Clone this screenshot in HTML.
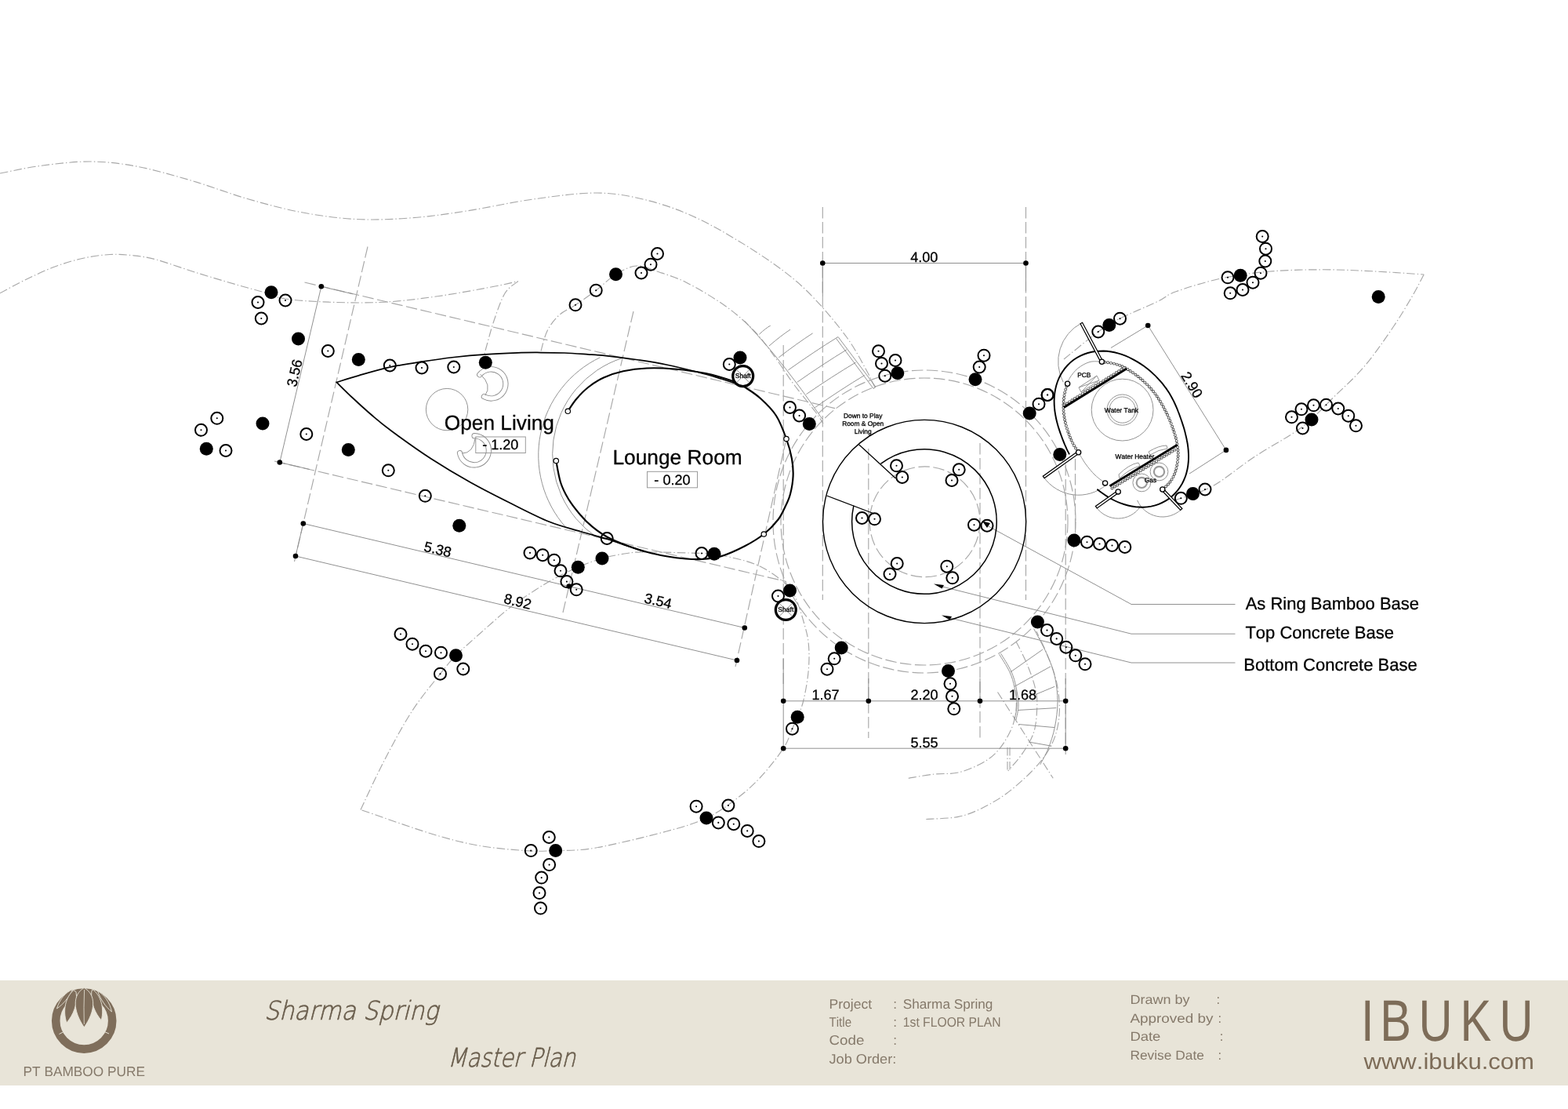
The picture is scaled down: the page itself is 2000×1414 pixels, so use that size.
<!DOCTYPE html>
<html lang="en"><head><meta charset="utf-8"><title>Sharma Spring - 1st Floor Plan</title>
<style>
html,body{margin:0;padding:0;background:#fff;}
body{width:2000px;height:1414px;overflow:hidden;position:relative;font-family:"Liberation Sans",sans-serif;}
svg{position:absolute;left:0;top:0;display:block;will-change:transform}
text{font-family:"Liberation Sans",sans-serif;fill:#000;stroke:#000;stroke-width:0.3px;text-rendering:geometricPrecision;font-kerning:none}
.ft,.fb{stroke:none}
.dd{fill:none;stroke:#a8a8a8;stroke-width:1.15;stroke-dasharray:10.5 3 1.4 3}
.dd .ds{stroke-dasharray:14.5 4.5}
.tg{fill:none;stroke:#939393;stroke-width:1}
.dim{fill:none;stroke:#909090;stroke-width:1}
.bk{fill:none;stroke:#000}
.ft{fill:#85796a}
.fs{fill:#6a5e4d}
.fb{fill:#7d6c58}
</style></head><body>
<svg width="2000" height="1414" viewBox="0 0 2000 1414">
<rect x="0" y="1250" width="2000" height="134" fill="#e8e4d8"/>
<g class="dd">
<path d="M0 221C8.8 219.4 33.2 213.8 52.5 211.3C71.8 208.8 95.1 205.8 115.5 206C135.9 206.2 153.4 208.2 175 212.3C196.6 216.4 221.7 223.7 245 230.5C268.3 237.3 291.7 246.6 315 253.3C338.3 260 361.7 266.4 385 270.8C408.3 275.2 431.7 278.3 455 279.5C478.3 280.7 501.7 279.6 525 277.8C548.3 276.1 569.2 273 595 269C620.8 265 652.5 257.8 680 254C707.5 250.2 736.7 246 760 246C783.3 246 800 249.3 820 254C840 258.7 860 265.3 880 274C900 282.7 920 294 940 306C960 318 983.3 333.3 1000 346C1016.7 358.7 1026.7 368 1040 382C1053.3 396 1069.3 415.3 1080 430C1090.7 444.7 1098 459.3 1104 470C1110 480.7 1114 490 1116 494"/>
<path d="M0 373.8C5.8 370.7 23.3 361.1 35 355.5C46.7 349.9 58.3 344.3 70 340C81.7 335.7 93.3 332.1 105 329.5C116.7 326.9 129.2 325.1 140 324.5C150.8 323.9 160 324.7 170 325.8C180 326.9 186.7 327.6 200 331.2C213.3 334.9 233.3 342.3 250 347.5C266.7 352.7 285.7 358.3 300 362.5C314.3 366.7 325.3 369.4 336 372.5C346.7 375.6 350 378.9 364 381C378 383.1 399 384.5 420 385.2C441 385.9 466.7 386.5 490 385.2C513.3 383.9 536.7 380.8 560 377.5C583.3 374.2 613.2 368.4 630 365.3C646.8 362.2 655.7 359.7 660.8 358.6"/>
<path d="M660.8 358.6C658 361.2 649.1 365.6 644 374C638.9 382.4 633.8 398 630 409C626.2 420 623.2 432.3 621 440C618.8 447.7 617.7 452.5 617 455"/>
<path d="M690 447.5C691.3 443.2 694.2 429.6 698 422C701.8 414.4 707 407.5 713 402C719 396.5 726.1 394.1 734 388.8C741.9 383.5 751.7 376.7 760.3 370.2C768.9 363.7 776.9 354.9 785.5 349.7C794.1 344.5 803.2 339.6 812 339C820.8 338.4 833.7 344.8 838 346"/>
<path d="M838 346C844.2 348.3 860.5 352.7 875 360C889.5 367.3 910.4 379.6 925 390C939.6 400.4 951.7 411.2 962.5 422.5C973.3 433.8 981.7 446.2 990 457.5C998.3 468.8 1004.2 478.8 1012.5 490C1020.8 501.2 1033.8 516.7 1040 525C1046.2 533.3 1048.3 537.5 1050 540"/>
<path d="M1357 458C1364.3 452.2 1388.9 431.7 1400.8 423C1412.7 414.3 1415.9 412.4 1428.6 406C1441.3 399.6 1464.9 390 1476.8 384.3C1488.7 378.6 1486.5 376.6 1500 371.8C1513.5 366.9 1537.9 359.2 1557.5 355C1577.1 350.8 1596.2 348.1 1617.5 346.2C1638.8 344.4 1662.9 343.8 1685 343.8C1707.1 343.7 1728.1 344.7 1750 345.8C1771.9 346.8 1805.2 349.3 1816.2 350"/>
<path d="M1816.2 350C1813.5 355 1806.9 368.3 1800 380C1793.1 391.7 1785 405.4 1775 420C1765 434.6 1752.5 452.9 1740 467.5C1727.5 482.1 1713.3 494.6 1700 507.5C1686.7 520.4 1676.7 532.5 1660 545C1643.3 557.5 1618.8 570.1 1600 582.5C1581.2 594.9 1563.2 610.6 1547.5 619.4C1531.8 628.2 1515.6 632 1506 635.4C1496.4 638.8 1492.7 639.2 1490 640"/>
<path d="M460 1032.4C465 1022 479.2 990.8 490 970C500.8 949.2 513.1 926 525 907.5C536.9 889 552.1 871.2 561.5 859.2C570.9 847.3 573 844.4 581.5 835.8C590 827.1 601.1 817.6 612.5 807.5C623.9 797.4 638.3 784.2 650 775C661.7 765.8 672.5 759 682.5 752.5C692.5 746 700.9 741.1 710 736.2C719.1 731.4 727.6 727.3 737.2 723.2C746.9 719.2 757.5 715 768 712C778.5 709 790.5 706.9 800 705.5C809.5 704.1 809.2 703.8 825 703.8C840.8 703.8 880.7 705.1 895 705.5C909.3 705.9 901.8 704.7 911 706.3C920.2 707.9 939.3 711.9 950 715C960.7 718.1 966.7 720.4 975 725C983.3 729.6 994.6 737.8 1000 742.5C1005.4 747.2 1006.2 751.2 1007.5 753"/>
<path d="M1007.5 753C1008.8 754.6 1012.1 755.9 1015 762.5C1017.9 769.1 1022.3 782.9 1025 792.5C1027.7 802.1 1030.2 809.6 1031.2 820C1032.3 830.4 1032.3 842.9 1031.2 855C1030.2 867.1 1027.3 882.6 1025 892.5C1022.7 902.4 1019.7 908.1 1017.2 914.2C1014.8 920.4 1013.5 922.6 1010.5 929.2C1007.5 935.9 1006 944 999.2 954.2C992.5 964.5 979.9 980.4 970 991C960.1 1001.6 951.5 1009.3 940 1018C928.5 1026.7 916 1036 901 1043C886 1050 873.5 1053.7 850 1060C826.5 1066.3 783.5 1076.9 760 1081C736.5 1085.1 723.7 1084 708.7 1084.6C693.7 1085.2 686.5 1085.7 670 1084.6C653.5 1083.5 630 1081.6 610 1078C590 1074.4 575 1070.6 550 1063C525 1055.4 475 1037.5 460 1032.4"/>
<circle class="ds" cx="1179" cy="665" r="183"/>
<circle class="ds" cx="1179" cy="665" r="193"/>
<circle class="ds" cx="1179.6" cy="665.3" r="70.4"/>
<path d="M1158.7 992.2C1164.2 991.4 1180.9 988.3 1191.5 987.1C1202.1 985.9 1212 987.4 1222.3 985C1232.5 982.6 1244.5 977.5 1253 972.7C1261.5 967.9 1267.3 963.5 1273.5 956.3C1279.7 949.1 1286.2 938.2 1289.9 929.7C1293.7 921.2 1295 913.3 1296 905C1297 896.7 1296 884.2 1296 880"/>
<path d="M1181.3 1044.5C1188.1 1044 1210.3 1043.8 1222.3 1041.4C1234.2 1039 1242.8 1035.2 1253 1030.2C1263.2 1025.2 1273.5 1019.2 1283.8 1011.7C1294 1004.2 1306 993.5 1314.5 985C1323 976.5 1329.5 968.9 1335 960.4C1340.5 951.9 1344.6 943.4 1347.3 933.8C1350 924.2 1351.4 913.9 1351.4 903C1351.4 892.1 1350 879.9 1347.3 868.2C1344.6 856.5 1339.2 843.5 1335 833C1330.8 822.5 1324.2 809.7 1322 805"/>
<path d="M1296.1 818C1298.5 823 1306.3 837.6 1310.4 847.7C1314.5 857.8 1318.7 869.2 1320.7 878.4C1322.8 887.6 1323.1 893.8 1322.7 903C1322.3 912.2 1321.7 924.2 1318.6 933.8C1315.5 943.4 1309.8 952.2 1304.3 960.4C1298.8 968.6 1288.9 979.2 1285.8 983"/>
<path d="M1272.5 882.5 L1343.2 992.2 M1285 953 L1285 983 M1288 953 L1288 983"/>
<path class="ds" d="M469 314.5 L375.5 716"/>
<path class="ds" d="M388.5 360 L1065 520.6"/>
<path class="ds" d="M350 588 L1003 741.5"/>
<path class="ds" d="M808 397 L718 781"/>
<path class="ds" d="M1003 559.5 L938 850"/>
<path class="ds" d="M1049.3 264 L1049.3 765"/>
<path class="ds" d="M1308.5 264 L1308.5 765"/>
<path class="ds" d="M999.2 440 L999.2 872"/>
<path class="ds" d="M1107.8 572 L1107.8 941"/>
<path class="ds" d="M1250 565 L1250 941"/>
<path class="ds" d="M1359.2 592 L1359.2 962"/>
<path class="ds" d="M1371.5 585 L1371.5 690"/>
</g>
<g class="tg">
<path d="M765.5 455.7 A138.3 138.3 0 0 0 721.5 672.2"/>
<path d="M793.5 456.6 A128.4 128.4 0 0 0 761.3 685.2"/>
<circle cx="570.1" cy="522.1" r="26.7"/>
</g>
<path d="M611.8 477.8 A18.6 18.6 0 1 1 617.4 505.7" fill="none" stroke="#8a8a8a" stroke-width="7.2" stroke-linecap="round"/>
<path d="M611.8 477.8 A18.6 18.6 0 1 1 617.4 505.7" fill="none" stroke="#fff" stroke-width="5.4" stroke-linecap="round"/>
<path class="tg" d="M612.7 477.2 Q628 491 618.8 504.3"/>
<path d="M605.1 555.7 A18.6 18.6 0 1 1 586.5 577.7" fill="none" stroke="#8a8a8a" stroke-width="7.2" stroke-linecap="round"/>
<path d="M605.1 555.7 A18.6 18.6 0 1 1 586.5 577.7" fill="none" stroke="#fff" stroke-width="5.4" stroke-linecap="round"/>
<path class="tg" d="M606.3 557.7 Q604 578 589.2 578.1"/>
<g>
</g>
<g class="dim">
<path d="M409.8 365.3 L356.8 589.5"/>
<path d="M386.8 667.5 L949.8 800.5"/>
<path d="M377 709 L940 842"/>
<path d="M1049.3 335.5 L1308.5 335.5"/>
<path d="M999.2 893.8 L1359.2 893.8"/>
<path d="M999.2 954.2 L1359.2 954.2"/>
<path d="M1464.2 415 L1563.9 573.9"/>
<path d="M999.2 840 L999.2 954.2"/>
<path d="M1107.8 865 L1107.8 893.8"/>
<path d="M1250 865 L1250 893.8"/>
<path d="M1359.2 865 L1359.2 954.2"/>
<path d="M386.8 667.5 L377 709"/>
<path d="M409.8 365.3 L450 374.8"/>
<path d="M356.8 589.5 L395 598.5"/>
<path d="M1464.2 415 L1417 443.5"/>
<path d="M1563.9 573.9 L1517 604"/>
<path d="M1049.3 335.5 L1049.3 378"/>
<path d="M1308.5 335.5 L1308.5 371"/>
<path d="M1259 670 L1443 770.5 L1575.5 770.5"/>
<path d="M1200 747.5 L1443 808.2 L1575.5 808.2"/>
<path d="M1210 787.5 L1443 845 L1575.5 845"/>
</g>
<path d="M1191 744.5 L1204 746 L1201.5 750.5 Z" fill="#000"/>
<path d="M1201 784.5 L1214 786 L1211.5 790.5 Z" fill="#000"/>
<path d="M1253 664.5 L1263 667 L1259 673 Z" fill="#000"/>
<circle cx="409.8" cy="365.3" r="3.3" fill="#000"/>
<circle cx="356.8" cy="589.5" r="3.3" fill="#000"/>
<circle cx="386.8" cy="667.5" r="3.3" fill="#000"/>
<circle cx="377" cy="709" r="3.3" fill="#000"/>
<circle cx="725.8" cy="747.5" r="3.3" fill="#000"/>
<circle cx="949.8" cy="800.5" r="3.3" fill="#000"/>
<circle cx="940" cy="842" r="3.3" fill="#000"/>
<circle cx="1049.3" cy="335.5" r="3.3" fill="#000"/>
<circle cx="1308.5" cy="335.5" r="3.3" fill="#000"/>
<circle cx="999.2" cy="893.8" r="3.3" fill="#000"/>
<circle cx="1107.8" cy="893.8" r="3.3" fill="#000"/>
<circle cx="1250" cy="893.8" r="3.3" fill="#000"/>
<circle cx="1359.2" cy="893.8" r="3.3" fill="#000"/>
<circle cx="999.2" cy="954.2" r="3.3" fill="#000"/>
<circle cx="1359.2" cy="954.2" r="3.3" fill="#000"/>
<circle cx="1464.2" cy="415" r="3.3" fill="#000"/>
<circle cx="1563.9" cy="573.9" r="3.3" fill="#000"/>
<path class="bk" stroke-width="1.75" stroke-linejoin="miter" d="M937 488.5C934.2 487.6 927.8 485.3 920 483C912.2 480.7 901.7 477.5 890 474.5C878.3 471.5 862.5 467.6 850 465C837.5 462.4 827.5 460.9 815 459C802.5 457.1 785.8 455 775 453.8C764.2 452.6 759.2 452.4 750 451.8C740.8 451.2 730 450.4 720 450C710 449.6 700 449.5 690 449.5C680 449.5 671.8 449.4 660 449.8C648.2 450.2 633 450.8 619.5 451.8C606 452.7 592.6 453.9 579 455.5C565.4 457.1 551.6 459.1 538 461.2C524.4 463.3 510.7 465.3 497.2 468.2C483.8 471.2 468.8 475.6 457.5 478.8C446.2 481.9 434 486 429.3 487.4C432.9 490.8 442.4 500.4 450 507.5C457.6 514.6 466.7 522.9 475 530C483.3 537.1 487.5 540.8 500 550C512.5 559.2 533.3 574.2 550 585C566.7 595.8 583.3 605.7 600 615C616.7 624.3 633.3 632.7 650 641C666.7 649.3 685 658.9 700 665C715 671.1 727.5 673.8 740 677.5C752.5 681.2 765 684.4 775 687.5C785 690.6 792 693.3 800 696C808 698.7 819.2 702.4 823 703.7"/>
<path class="bk" stroke-width="2.15" d="M724.3 524.3C726.1 521.8 730.7 514 735 509C739.3 503.9 744.2 498.6 750 494C755.8 489.4 762.5 484.9 770 481.5C777.5 478.1 785.8 475.3 795 473.3C804.2 471.3 814.2 470 825 469.5C835.8 469 847.5 469.4 860 470.5C872.5 471.6 887.5 473.4 900 476C912.5 478.6 926.7 483.1 935 486C943.3 488.9 944.2 490 950 493.7C955.8 497.4 963.3 501.9 970 508C976.7 514 984.5 521.4 990 530C995.5 538.6 999.7 550.3 1003 559.5C1006.3 568.7 1008.6 577.1 1010 585C1011.4 592.9 1011.9 599.5 1011.6 607C1011.3 614.5 1009.6 623.7 1008 630C1006.4 636.3 1004.6 639.6 1002 645C999.4 650.4 997.1 656.5 992.5 662.5C987.9 668.5 981.4 675.4 974.3 681C967.2 686.6 959 691.6 950 696.3C941 701 929.2 706.4 920 709.2C910.8 712 902.5 712.5 895 713C887.5 713.5 882.5 713.1 875 712.5C867.5 711.9 858.3 710.7 850 709.2C841.7 707.7 833.3 706 825 703.7C816.7 701.5 808.3 698.8 800 695.7C791.7 692.6 782.5 689.1 775 685C767.5 680.9 760.8 676 755 671.2C749.2 666.4 745 662 740 656.2C735 650.4 729.2 643.1 725 636.2C720.8 629.3 717.6 623.1 715 615C712.4 606.9 710.2 592.1 709.3 587.5"/>
<circle cx="724.3" cy="524.3" r="3.2" fill="#fff" stroke="#000" stroke-width="1.2"/>
<circle cx="709.3" cy="587.5" r="3.2" fill="#fff" stroke="#000" stroke-width="1.2"/>
<circle cx="1003" cy="559.5" r="3.2" fill="#fff" stroke="#000" stroke-width="1.2"/>
<circle cx="974.3" cy="681" r="3.2" fill="#fff" stroke="#000" stroke-width="1.2"/>
<circle class="bk" cx="1179.1" cy="665" r="129.6" stroke-width="1.4"/>
<path class="bk" stroke-width="1.5" d="M1123.3 591.4 A92.3 92.3 0 1 1 1088.9 644.7"/>
<path class="bk" stroke-width="1.25" d="M1095.75 567 L1142.5 610 M1054.5 632 L1115 655"/>
<circle cx="947.7" cy="479.6" r="12.95" fill="#fff" stroke="#000" stroke-width="3.3"/>
<path class="tg" d="M939.4 471.3 l16.6 16.6 M956 471.3 l-16.6 16.6"/>
<text x="947.7" y="482.4" font-size="8.6" text-anchor="middle">Shaft</text>
<circle cx="1002.3" cy="777.5" r="12.95" fill="#fff" stroke="#000" stroke-width="3.3"/>
<path class="tg" d="M994 769.2 l16.6 16.6 M1010.6 769.2 l-16.6 16.6"/>
<text x="1002.3" y="780.3" font-size="8.6" text-anchor="middle">Shaft</text>
<g fill="none" stroke="#000" stroke-width="2">
<circle cx="329" cy="385.5" r="7.5"/>
<circle cx="364" cy="383" r="7.5"/>
<circle cx="333.3" cy="406" r="7.5"/>
<circle cx="418.3" cy="447.5" r="7.5"/>
<circle cx="497.3" cy="466" r="7.5"/>
<circle cx="538" cy="469" r="7.5"/>
<circle cx="578.8" cy="468" r="7.5"/>
<circle cx="276.8" cy="533.3" r="7.5"/>
<circle cx="256.5" cy="548.3" r="7.5"/>
<circle cx="288" cy="574.5" r="7.5"/>
<circle cx="390.8" cy="553.5" r="7.5"/>
<circle cx="495.3" cy="599.8" r="7.5"/>
<circle cx="542.3" cy="632.3" r="7.5"/>
<circle cx="930.3" cy="464.5" r="7.5"/>
<circle cx="1007.5" cy="519.5" r="7.5"/>
<circle cx="1019.6" cy="530" r="7.5"/>
<circle cx="774.2" cy="686.5" r="7.5"/>
<circle cx="895" cy="705.5" r="7.5"/>
<circle cx="676" cy="704.9" r="7.5"/>
<circle cx="692.2" cy="707.7" r="7.5"/>
<circle cx="706.8" cy="714.2" r="7.5"/>
<circle cx="715" cy="727.8" r="7.5"/>
<circle cx="722.9" cy="741.6" r="7.5"/>
<circle cx="735.2" cy="751.8" r="7.5"/>
<circle cx="838.5" cy="323.5" r="7.5"/>
<circle cx="830" cy="337.2" r="7.5"/>
<circle cx="818" cy="348" r="7.5"/>
<circle cx="760.2" cy="370.2" r="7.5"/>
<circle cx="734" cy="388.8" r="7.5"/>
<circle cx="1143.5" cy="593.8" r="7.5"/>
<circle cx="1150.8" cy="608.5" r="7.5"/>
<circle cx="1223.2" cy="598.8" r="7.5"/>
<circle cx="1214" cy="612.5" r="7.5"/>
<circle cx="1099.5" cy="660.5" r="7.5"/>
<circle cx="1115.5" cy="661.8" r="7.5"/>
<circle cx="1242.5" cy="669.2" r="7.5"/>
<circle cx="1259" cy="670.2" r="7.5"/>
<circle cx="1144.2" cy="718.5" r="7.5"/>
<circle cx="1135" cy="732" r="7.5"/>
<circle cx="1207.8" cy="722.2" r="7.5"/>
<circle cx="1214.8" cy="736.8" r="7.5"/>
<circle cx="1120.5" cy="447.8" r="7.5"/>
<circle cx="1124.5" cy="463.5" r="7.5"/>
<circle cx="1142" cy="459.5" r="7.5"/>
<circle cx="1128.8" cy="479.2" r="7.5"/>
<circle cx="1255" cy="453.2" r="7.5"/>
<circle cx="1249.2" cy="468" r="7.5"/>
<circle cx="1325" cy="515.2" r="7.5"/>
<circle cx="1336.2" cy="503.5" r="7.5"/>
<circle cx="1386.5" cy="691.2" r="7.5"/>
<circle cx="1402.5" cy="693.5" r="7.5"/>
<circle cx="1418.5" cy="695.5" r="7.5"/>
<circle cx="1434.8" cy="697.5" r="7.5"/>
<circle cx="1400.8" cy="423" r="7.5"/>
<circle cx="1428.5" cy="406.2" r="7.5"/>
<circle cx="992.5" cy="760" r="7.5"/>
<circle cx="1064.2" cy="839.8" r="7.5"/>
<circle cx="1055" cy="853.2" r="7.5"/>
<circle cx="1212" cy="871.8" r="7.5"/>
<circle cx="1214.5" cy="887.8" r="7.5"/>
<circle cx="1216.8" cy="903.8" r="7.5"/>
<circle cx="1010.5" cy="929.2" r="7.5"/>
<circle cx="1335.5" cy="803.6" r="7.5"/>
<circle cx="1347.7" cy="814.4" r="7.5"/>
<circle cx="1359.8" cy="825.2" r="7.5"/>
<circle cx="1371.8" cy="835.8" r="7.5"/>
<circle cx="1384" cy="846.8" r="7.5"/>
<circle cx="1610.2" cy="301.5" r="7.5"/>
<circle cx="1614.5" cy="317.2" r="7.5"/>
<circle cx="1613.8" cy="333" r="7.5"/>
<circle cx="1608" cy="348.2" r="7.5"/>
<circle cx="1598" cy="360.2" r="7.5"/>
<circle cx="1585" cy="369.5" r="7.5"/>
<circle cx="1569.2" cy="373.8" r="7.5"/>
<circle cx="1566" cy="353.8" r="7.5"/>
<circle cx="1647.5" cy="531.8" r="7.5"/>
<circle cx="1660" cy="521.8" r="7.5"/>
<circle cx="1675.5" cy="516.8" r="7.5"/>
<circle cx="1691.5" cy="516.2" r="7.5"/>
<circle cx="1706.8" cy="521" r="7.5"/>
<circle cx="1719.8" cy="530.2" r="7.5"/>
<circle cx="1729.5" cy="542.8" r="7.5"/>
<circle cx="1661.5" cy="546" r="7.5"/>
<circle cx="511" cy="808.5" r="7.5"/>
<circle cx="526" cy="821.2" r="7.5"/>
<circle cx="543" cy="830.2" r="7.5"/>
<circle cx="562.5" cy="832.2" r="7.5"/>
<circle cx="590.8" cy="853" r="7.5"/>
<circle cx="561.5" cy="859.2" r="7.5"/>
<circle cx="700.3" cy="1067.5" r="7.5"/>
<circle cx="677.2" cy="1084.6" r="7.5"/>
<circle cx="700.6" cy="1102.6" r="7.5"/>
<circle cx="690.7" cy="1119.1" r="7.5"/>
<circle cx="688" cy="1138.6" r="7.5"/>
<circle cx="689.5" cy="1158.1" r="7.5"/>
<circle cx="888.1" cy="1028.2" r="7.5"/>
<circle cx="928.9" cy="1027" r="7.5"/>
<circle cx="916.3" cy="1048.9" r="7.5"/>
<circle cx="935.8" cy="1050.7" r="7.5"/>
<circle cx="953.2" cy="1059.4" r="7.5"/>
<circle cx="967.9" cy="1072.6" r="7.5"/>
<circle cx="1506.3" cy="635.3" r="7.5"/>
<circle cx="1537" cy="624" r="7.5"/>
<circle cx="1336" cy="503.5" r="7.5"/>
</g><g fill="#000">
<circle cx="329" cy="385.5" r="1.05"/>
<circle cx="364" cy="383" r="1.05"/>
<circle cx="333.3" cy="406" r="1.05"/>
<circle cx="418.3" cy="447.5" r="1.05"/>
<circle cx="497.3" cy="466" r="1.05"/>
<circle cx="538" cy="469" r="1.05"/>
<circle cx="578.8" cy="468" r="1.05"/>
<circle cx="276.8" cy="533.3" r="1.05"/>
<circle cx="256.5" cy="548.3" r="1.05"/>
<circle cx="288" cy="574.5" r="1.05"/>
<circle cx="390.8" cy="553.5" r="1.05"/>
<circle cx="495.3" cy="599.8" r="1.05"/>
<circle cx="542.3" cy="632.3" r="1.05"/>
<circle cx="930.3" cy="464.5" r="1.05"/>
<circle cx="1007.5" cy="519.5" r="1.05"/>
<circle cx="1019.6" cy="530" r="1.05"/>
<circle cx="774.2" cy="686.5" r="1.05"/>
<circle cx="895" cy="705.5" r="1.05"/>
<circle cx="676" cy="704.9" r="1.05"/>
<circle cx="692.2" cy="707.7" r="1.05"/>
<circle cx="706.8" cy="714.2" r="1.05"/>
<circle cx="715" cy="727.8" r="1.05"/>
<circle cx="722.9" cy="741.6" r="1.05"/>
<circle cx="735.2" cy="751.8" r="1.05"/>
<circle cx="838.5" cy="323.5" r="1.05"/>
<circle cx="830" cy="337.2" r="1.05"/>
<circle cx="818" cy="348" r="1.05"/>
<circle cx="760.2" cy="370.2" r="1.05"/>
<circle cx="734" cy="388.8" r="1.05"/>
<circle cx="1143.5" cy="593.8" r="1.05"/>
<circle cx="1150.8" cy="608.5" r="1.05"/>
<circle cx="1223.2" cy="598.8" r="1.05"/>
<circle cx="1214" cy="612.5" r="1.05"/>
<circle cx="1099.5" cy="660.5" r="1.05"/>
<circle cx="1115.5" cy="661.8" r="1.05"/>
<circle cx="1242.5" cy="669.2" r="1.05"/>
<circle cx="1259" cy="670.2" r="1.05"/>
<circle cx="1144.2" cy="718.5" r="1.05"/>
<circle cx="1135" cy="732" r="1.05"/>
<circle cx="1207.8" cy="722.2" r="1.05"/>
<circle cx="1214.8" cy="736.8" r="1.05"/>
<circle cx="1120.5" cy="447.8" r="1.05"/>
<circle cx="1124.5" cy="463.5" r="1.05"/>
<circle cx="1142" cy="459.5" r="1.05"/>
<circle cx="1128.8" cy="479.2" r="1.05"/>
<circle cx="1255" cy="453.2" r="1.05"/>
<circle cx="1249.2" cy="468" r="1.05"/>
<circle cx="1325" cy="515.2" r="1.05"/>
<circle cx="1336.2" cy="503.5" r="1.05"/>
<circle cx="1386.5" cy="691.2" r="1.05"/>
<circle cx="1402.5" cy="693.5" r="1.05"/>
<circle cx="1418.5" cy="695.5" r="1.05"/>
<circle cx="1434.8" cy="697.5" r="1.05"/>
<circle cx="1400.8" cy="423" r="1.05"/>
<circle cx="1428.5" cy="406.2" r="1.05"/>
<circle cx="992.5" cy="760" r="1.05"/>
<circle cx="1064.2" cy="839.8" r="1.05"/>
<circle cx="1055" cy="853.2" r="1.05"/>
<circle cx="1212" cy="871.8" r="1.05"/>
<circle cx="1214.5" cy="887.8" r="1.05"/>
<circle cx="1216.8" cy="903.8" r="1.05"/>
<circle cx="1010.5" cy="929.2" r="1.05"/>
<circle cx="1335.5" cy="803.6" r="1.05"/>
<circle cx="1347.7" cy="814.4" r="1.05"/>
<circle cx="1359.8" cy="825.2" r="1.05"/>
<circle cx="1371.8" cy="835.8" r="1.05"/>
<circle cx="1384" cy="846.8" r="1.05"/>
<circle cx="1610.2" cy="301.5" r="1.05"/>
<circle cx="1614.5" cy="317.2" r="1.05"/>
<circle cx="1613.8" cy="333" r="1.05"/>
<circle cx="1608" cy="348.2" r="1.05"/>
<circle cx="1598" cy="360.2" r="1.05"/>
<circle cx="1585" cy="369.5" r="1.05"/>
<circle cx="1569.2" cy="373.8" r="1.05"/>
<circle cx="1566" cy="353.8" r="1.05"/>
<circle cx="1647.5" cy="531.8" r="1.05"/>
<circle cx="1660" cy="521.8" r="1.05"/>
<circle cx="1675.5" cy="516.8" r="1.05"/>
<circle cx="1691.5" cy="516.2" r="1.05"/>
<circle cx="1706.8" cy="521" r="1.05"/>
<circle cx="1719.8" cy="530.2" r="1.05"/>
<circle cx="1729.5" cy="542.8" r="1.05"/>
<circle cx="1661.5" cy="546" r="1.05"/>
<circle cx="511" cy="808.5" r="1.05"/>
<circle cx="526" cy="821.2" r="1.05"/>
<circle cx="543" cy="830.2" r="1.05"/>
<circle cx="562.5" cy="832.2" r="1.05"/>
<circle cx="590.8" cy="853" r="1.05"/>
<circle cx="561.5" cy="859.2" r="1.05"/>
<circle cx="700.3" cy="1067.5" r="1.05"/>
<circle cx="677.2" cy="1084.6" r="1.05"/>
<circle cx="700.6" cy="1102.6" r="1.05"/>
<circle cx="690.7" cy="1119.1" r="1.05"/>
<circle cx="688" cy="1138.6" r="1.05"/>
<circle cx="689.5" cy="1158.1" r="1.05"/>
<circle cx="888.1" cy="1028.2" r="1.05"/>
<circle cx="928.9" cy="1027" r="1.05"/>
<circle cx="916.3" cy="1048.9" r="1.05"/>
<circle cx="935.8" cy="1050.7" r="1.05"/>
<circle cx="953.2" cy="1059.4" r="1.05"/>
<circle cx="967.9" cy="1072.6" r="1.05"/>
<circle cx="1506.3" cy="635.3" r="1.05"/>
<circle cx="1537" cy="624" r="1.05"/>
<circle cx="1336" cy="503.5" r="1.05"/>
<circle cx="346" cy="372.8" r="8.5"/>
<circle cx="380.5" cy="432" r="8.5"/>
<circle cx="457.3" cy="458.5" r="8.5"/>
<circle cx="619.3" cy="462.3" r="8.5"/>
<circle cx="335" cy="540" r="8.5"/>
<circle cx="263.3" cy="572.3" r="8.5"/>
<circle cx="444.3" cy="573.5" r="8.5"/>
<circle cx="944" cy="456" r="8.5"/>
<circle cx="1032.3" cy="540.5" r="8.5"/>
<circle cx="911" cy="706.3" r="8.5"/>
<circle cx="768" cy="712" r="8.5"/>
<circle cx="737.3" cy="723.2" r="8.5"/>
<circle cx="585.8" cy="670.2" r="8.5"/>
<circle cx="581.5" cy="835.8" r="8.5"/>
<circle cx="785.5" cy="349.8" r="8.5"/>
<circle cx="1144.8" cy="475.8" r="8.5"/>
<circle cx="1244" cy="483.8" r="8.5"/>
<circle cx="1313.2" cy="527" r="8.5"/>
<circle cx="1351.8" cy="579.5" r="8.5"/>
<circle cx="1370" cy="689" r="8.5"/>
<circle cx="1414.8" cy="414.5" r="8.5"/>
<circle cx="1007.5" cy="753" r="8.5"/>
<circle cx="1073.2" cy="826" r="8.5"/>
<circle cx="1209.5" cy="855.5" r="8.5"/>
<circle cx="1017.2" cy="914.2" r="8.5"/>
<circle cx="1323.4" cy="793" r="8.5"/>
<circle cx="1582.2" cy="351.2" r="8.5"/>
<circle cx="1758.2" cy="378.5" r="8.5"/>
<circle cx="1673" cy="535" r="8.5"/>
<circle cx="708.7" cy="1084.6" r="8.5"/>
<circle cx="901" cy="1042.9" r="8.5"/>
<circle cx="1521.5" cy="629.5" r="8.5"/>
</g>
<text x="636.9" y="547.6" font-size="26.25" text-anchor="middle">Open Living</text>
<text x="864.1" y="591.8" font-size="26.3" text-anchor="middle">Lounge Room</text>
<rect x="606.8" y="557" width="63.5" height="20.5" fill="#fff" fill-opacity="0" stroke="#9a9a9a" stroke-width="1"/>
<rect x="825.5" y="601.3" width="64" height="20.5" fill="none" stroke="#9a9a9a" stroke-width="1"/>
<text x="638.3" y="572.8" font-size="18.1" text-anchor="middle">- 1.20</text>
<text x="857.5" y="618" font-size="18.1" text-anchor="middle">- 0.20</text>
<text x="1178.8" y="334" font-size="18.1" text-anchor="middle">4.00</text>
<text x="1053" y="892.3" font-size="18.1" text-anchor="middle">1.67</text>
<text x="1179" y="892.3" font-size="18.1" text-anchor="middle">2.20</text>
<text x="1304.5" y="892.3" font-size="18.1" text-anchor="middle">1.68</text>
<text x="1179" y="952.8" font-size="18.1" text-anchor="middle">5.55</text>
<text x="0" y="0" font-size="18.1" text-anchor="middle" transform="translate(381.7 477) rotate(-76.7)">3.56</text>
<text x="0" y="0" font-size="18.1" text-anchor="middle" transform="translate(557 706.5) rotate(13.3)">5.38</text>
<text x="0" y="0" font-size="18.1" text-anchor="middle" transform="translate(658.8 772.9) rotate(13.3)">8.92</text>
<text x="0" y="0" font-size="18.1" text-anchor="middle" transform="translate(838 772.2) rotate(13.3)">3.54</text>
<text x="0" y="0" font-size="18.1" text-anchor="middle" transform="translate(1515 494) rotate(58)">2.90</text>
<text x="1588.7" y="776.9" font-size="22" text-anchor="start">As Ring Bamboo Base</text>
<text x="1588.4" y="814" font-size="22" text-anchor="start">Top Concrete Base</text>
<text x="1586.3" y="855.3" font-size="22" text-anchor="start">Bottom Concrete Base</text>
<text x="1100.7" y="532.6" font-size="8.4" text-anchor="middle">Down to Play</text>
<text x="1100.7" y="542.9" font-size="8.4" text-anchor="middle">Room &amp; Open</text>
<text x="1100.7" y="553.2" font-size="8.4" text-anchor="middle">Living</text>
<g class="tg">
<circle cx="1431.6" cy="522.6" r="39.4"/><circle cx="1431.6" cy="522.6" r="19.6"/><circle cx="1431.6" cy="522.6" r="16.6"/>
<circle cx="1478.5" cy="601.4" r="11.4"/><circle cx="1478.5" cy="601.4" r="6.6" stroke="#9a9a9a" stroke-width="2.2"/>
<circle cx="1456.3" cy="615.4" r="11.4"/><circle cx="1456.3" cy="615.4" r="6.6" stroke="#9a9a9a" stroke-width="2.2"/>
<path d="M1379.3 412 A55.7 55.7 0 0 0 1356.2 487.3"/>
<path d="M1331.2 608.4 A54.6 54.6 0 0 0 1411 618.2"/>
<path d="M1398.3 646.7 A34.2 34.2 0 0 0 1454.3 646.3"/>
<path d="M1506.8 649.5 A35 35 0 0 1 1450.6 637.8"/>
<path d="M1405.4 461.2C1402.8 461.2 1395.1 460.1 1390 461.5C1384.9 462.9 1379.2 466.2 1375 469.5C1370.8 472.8 1367.2 477.7 1365 481C1362.8 484.3 1362.2 487.8 1361.6 489.2"/>
<path d="M1375.6 576.7C1377.2 579.2 1381.4 587.1 1385 592C1388.6 596.9 1392.9 602 1397 606C1401.1 610 1407.5 614.2 1409.6 615.9"/>
<path d="M1376 494 L1399 479 L1402 485 L1379 500 Z M1376 494 L1402 485 M1379 500 L1399 479"/>
<path d="M1427 605 Q1440 592 1452 590 L1454 594 Q1440 598 1428 610 Z"/>
<path d="M1465 576 Q1478 568 1488 568 L1489 572 Q1478 573 1467 580 Z"/>
</g>
<path class="bk" stroke-width="1.9" d="M1364 579.4C1363.5 578.3 1361.9 575.2 1360.9 573.1C1359.9 570.9 1359 568.8 1358 566.6C1357.1 564.4 1356.2 562.1 1355.3 559.8C1354.4 557.5 1353.5 555.2 1352.7 552.8C1351.8 550.4 1351 547.9 1350.2 545.4C1349.4 542.8 1348.7 540.2 1348 537.5C1347.3 534.7 1346.7 531.9 1346.2 529C1345.7 526.2 1345.2 523.2 1345 520.1C1344.7 517.1 1344.6 514 1344.6 510.8C1344.7 507.6 1344.9 504.4 1345.3 501.2C1345.8 498 1346.4 494.7 1347.3 491.5C1348.2 488.4 1349.3 485.2 1350.7 482.2C1352.1 479.1 1353.7 476.1 1355.6 473.4C1357.4 470.6 1359.6 467.9 1361.9 465.5C1364.2 463.1 1366.8 460.8 1369.5 458.8C1372.2 456.9 1375.1 455.1 1378.2 453.6C1381.2 452.2 1384.4 450.9 1387.6 450C1390.8 449.1 1394.1 448.4 1397.4 448C1400.8 447.6 1404.1 447.5 1407.4 447.5C1410.7 447.6 1414.1 448 1417.3 448.5C1420.5 449 1423.7 449.8 1426.7 450.6C1429.8 451.5 1432.8 452.6 1435.6 453.7C1438.5 454.9 1441.3 456.2 1444 457.6C1446.6 458.9 1449.2 460.4 1451.6 461.9C1454.1 463.4 1456.5 465 1458.7 466.6C1461 468.3 1463.1 469.9 1465.2 471.6C1467.3 473.3 1469.3 475.1 1471.2 476.9C1473.1 478.6 1474.9 480.4 1476.7 482.3C1478.4 484.1 1480.1 486 1481.7 487.9C1483.3 489.8 1484.8 491.7 1486.2 493.7C1487.7 495.6 1489 497.6 1490.3 499.6C1491.6 501.6 1492.8 503.7 1494 505.7C1495.2 507.8 1496.2 509.9 1497.3 512C1498.3 514.1 1499.3 516.3 1500.2 518.4C1501.2 520.6 1502.1 522.8 1502.9 525C1503.8 527.2 1504.6 529.4 1505.4 531.7C1506.2 533.9 1507 536.2 1507.8 538.6C1508.6 540.9 1509.3 543.3 1510.1 545.8C1510.8 548.3 1511.5 550.8 1512.1 553.4C1512.8 556.1 1513.4 558.7 1513.9 561.5C1514.5 564.3 1515 567.2 1515.3 570.1C1515.7 573 1515.9 576.1 1516 579.2C1516.1 582.2 1516.1 585.4 1515.8 588.6C1515.6 591.7 1515.2 595 1514.5 598.2C1513.8 601.4 1513 604.6 1511.9 607.7C1510.7 610.8 1509.4 613.9 1507.8 616.8C1506.1 619.7 1504.3 622.6 1502.2 625.2C1500.1 627.8 1497.7 630.3 1495.2 632.5C1492.7 634.7 1490 636.7 1487.1 638.4C1484.2 640.1 1481.1 641.6 1478 642.8C1474.9 644 1471.6 644.9 1468.3 645.6C1465.1 646.2 1461.7 646.6 1458.4 646.7C1455.1 646.8 1451.7 646.6 1448.4 646.3C1445.2 645.9 1441.9 645.3 1438.8 644.5C1435.7 643.8 1432.6 642.8 1429.6 641.7C1426.7 640.6 1423.8 639.3 1421.1 638C1418.3 636.6 1415.7 635.1 1413.2 633.6C1410.7 632.1 1408.3 630.5 1406 628.8C1403.7 627.2 1400.5 624.6 1399.4 623.8"/>
<path d="M1405.4 461.2C1408.2 461.7 1417.2 462.5 1422.5 464C1427.8 465.5 1431.2 466.6 1437 470.1C1442.8 473.6 1451.2 479.3 1457.5 485C1463.8 490.7 1469.8 497 1475 504.3C1480.2 511.6 1485.2 520.9 1489 528.8C1492.8 536.7 1495.7 545.1 1497.8 551.5C1499.9 557.9 1500.8 562.3 1501.6 567.3C1502.4 572.3 1503 575.8 1502.7 581.3C1502.4 586.8 1501.2 595 1499.5 600.5C1497.8 606 1495.3 610.6 1492.5 614.5C1489.7 618.4 1484.5 622.5 1482.9 624.1" fill="none" stroke="#4a4a4a" stroke-width="3.9" stroke-linecap="round" stroke-dasharray="0 3.9"/>
<path d="M1405.4 461.2C1408.2 461.7 1417.2 462.5 1422.5 464C1427.8 465.5 1431.2 466.6 1437 470.1C1442.8 473.6 1451.2 479.3 1457.5 485C1463.8 490.7 1469.8 497 1475 504.3C1480.2 511.6 1485.2 520.9 1489 528.8C1492.8 536.7 1495.7 545.1 1497.8 551.5C1499.9 557.9 1500.8 562.3 1501.6 567.3C1502.4 572.3 1503 575.8 1502.7 581.3C1502.4 586.8 1501.2 595 1499.5 600.5C1497.8 606 1495.3 610.6 1492.5 614.5C1489.7 618.4 1484.5 622.5 1482.9 624.1" fill="none" stroke="#fff" stroke-width="2.1" stroke-linecap="round" stroke-dasharray="0 3.9"/>
<path d="M1361.6 489.2C1361 491.4 1358.7 497.4 1357.8 502.5C1356.9 507.6 1356.3 513.7 1356.4 519.5C1356.5 525.3 1357.3 531.6 1358.6 537.5C1359.8 543.4 1362 549.9 1363.9 555C1365.8 560.1 1368 564.5 1370 568.1C1372 571.7 1374.7 575.3 1375.6 576.7" fill="none" stroke="#4a4a4a" stroke-width="3.9" stroke-linecap="round" stroke-dasharray="0 3.9"/>
<path d="M1361.6 489.2C1361 491.4 1358.7 497.4 1357.8 502.5C1356.9 507.6 1356.3 513.7 1356.4 519.5C1356.5 525.3 1357.3 531.6 1358.6 537.5C1359.8 543.4 1362 549.9 1363.9 555C1365.8 560.1 1368 564.5 1370 568.1C1372 571.7 1374.7 575.3 1375.6 576.7" fill="none" stroke="#fff" stroke-width="2.1" stroke-linecap="round" stroke-dasharray="0 3.9"/>
<path d="M1357.5 516.5L1435.5 468" fill="none" stroke="#4a4a4a" stroke-width="3.9" stroke-linecap="round" stroke-dasharray="0 3.9"/>
<path d="M1357.5 516.5L1435.5 468" fill="none" stroke="#fff" stroke-width="2.1" stroke-linecap="round" stroke-dasharray="0 3.9"/>
<path d="M1418.5 622.5L1501 572" fill="none" stroke="#4a4a4a" stroke-width="3.9" stroke-linecap="round" stroke-dasharray="0 3.9"/>
<path d="M1418.5 622.5L1501 572" fill="none" stroke="#fff" stroke-width="2.1" stroke-linecap="round" stroke-dasharray="0 3.9"/>
<path d="M1357 519.5 L1437 470.1 M1415.5 619.8 L1501.6 567.3" stroke="#000" stroke-width="2.8" fill="none"/>
<path d="M1406.7 460.5L1380.6 411.3L1378 412.7L1404.1 461.9Z" fill="#fff" stroke="#000" stroke-width="1.2"/>
<path d="M1374.7 575.5L1330.3 607.2L1332.1 609.6L1376.5 577.9Z" fill="#fff" stroke="#000" stroke-width="1.2"/>
<path d="M1425.3 625.7L1397.4 645.5L1399.2 647.9L1427.1 628.1Z" fill="#fff" stroke="#000" stroke-width="1.2"/>
<path d="M1481.7 625L1505.7 650.5L1507.9 648.5L1483.9 623Z" fill="#fff" stroke="#000" stroke-width="1.2"/>
<circle cx="1405.4" cy="461.2" r="3.1" fill="#fff" stroke="#000" stroke-width="1.3"/>
<circle cx="1361.6" cy="489.2" r="3.1" fill="#fff" stroke="#000" stroke-width="1.3"/>
<circle cx="1375.6" cy="576.7" r="3.1" fill="#fff" stroke="#000" stroke-width="1.3"/>
<circle cx="1409.6" cy="615.9" r="3.1" fill="#fff" stroke="#000" stroke-width="1.3"/>
<circle cx="1426.2" cy="626.9" r="3.1" fill="#fff" stroke="#000" stroke-width="1.3"/>
<circle cx="1482.8" cy="624" r="3.1" fill="#fff" stroke="#000" stroke-width="1.3"/>
<text x="1382.8" y="481" font-size="8.4" text-anchor="middle">PCB</text>
<text x="1430.4" y="525.6" font-size="8.4" text-anchor="middle">Water Tank</text>
<text x="1447.5" y="585.2" font-size="8.4" text-anchor="middle">Water Heater</text>
<text x="1467.5" y="615.2" font-size="8.4" text-anchor="middle">Gas</text>
<g class="tg">
<path d="M949.7 409.2C955.6 415.8 973.6 435.4 985 449C996.4 462.6 1007.4 476.8 1018 491C1028.6 505.2 1043.6 526.8 1048.7 534"/>
<path d="M1069 429.5 L1117 493.3 L1114 495.5 L1066.5 431.5"/>
<path d="M968.4 426.2 Q977 418.2 982.7 415.2"/>
<path d="M981 441 Q996 428.1 1008 420.2"/>
<path d="M993.2 455.9 Q1016.4 437.9 1036.6 424.9"/>
<path d="M1005.3 471.9 Q1038.7 448.2 1069 429.5"/>
<path d="M1016.8 487.3 Q1049.9 464.1 1080 445.8"/>
<path d="M1028.4 502.7 Q1061.5 479.9 1091.6 462"/>
<path d="M1039.4 519.7 Q1072.5 496.6 1102.6 478.5"/>
<path d="M1274.6 834.3C1276.8 838.1 1284.7 849.9 1287.9 856.9C1291.1 863.9 1292.5 869.4 1294 876.4C1295.5 883.4 1297.1 892.1 1297.1 898.9C1297.1 905.7 1294.5 914.3 1294 917.4"/>
<path d="M1276.6 833.3C1278.8 837.1 1286.7 849.1 1289.9 856.2C1293.1 863.3 1294.5 868.9 1296 876C1297.5 883.1 1299.1 891.9 1299.1 898.9C1299.1 905.9 1296.5 914.8 1296 918"/>
<path d="M1318.6 801.5C1321.3 806.8 1330.5 823.2 1335 833.3C1339.5 843.4 1343 851.8 1345.3 862C1347.6 872.2 1349 883.9 1349 894.8C1349 905.7 1347.3 917.7 1345.3 927.6C1343.3 937.5 1340.2 946.4 1337.1 954.3C1334 962.2 1328.5 971.4 1326.8 974.8"/>
<path d="M1288.9 856.9 L1329.9 828.2"/>
<path d="M1294 875.3 L1340.2 849.7"/>
<path d="M1320.7 885.6 L1345.3 875.3"/>
<path d="M1298.1 905.5 L1347.3 902.6"/>
<path d="M1299.2 923.5 L1345.3 927.6"/>
<path d="M1312.5 946.1 L1341.2 951.2"/>
</g>
<g fill="#7f6e5b" stroke="#e8e4d8" stroke-width="0.9">
<circle cx="107.2" cy="1301.6" r="36" fill="none" stroke="#7f6e5b" stroke-width="10.6"/>
<path d="M92.6 1261.6 C84 1265 76 1274 72.5 1286 C80 1281 88 1272 92.6 1261.6Z"/>
<path d="M124.6 1263.6 C133 1268 140 1278 142.5 1290 C135 1284 128 1274 124.6 1263.6Z"/>
<path d="M93.8 1262.6 C84 1271 79.5 1288 85 1304 C93.5 1294 99.5 1280 97 1264.5Z"/>
<path d="M118 1261.6 C128 1268 133.5 1285 129.2 1300.8 C121.5 1292 115.5 1279 116.8 1264Z"/>
<path d="M107.3 1259.6 C123 1268 122 1289 107.3 1309.8 C93 1289 92 1268 107.3 1259.6Z"/>
<path d="M107.6 1262 Q106.6 1285 107.3 1306" fill="none" stroke-width="0.8"/>
<path d="M75.5 1318.5 L83.5 1314.2 M131 1314.5 L139 1318" fill="none" stroke-width="1"/>
</g>
<text class="ft" x="29.6" y="1372" font-size="17.3" text-anchor="start" textLength="155.4" lengthAdjust="spacingAndGlyphs">PT BAMBOO PURE</text>
<text class="fs" transform="translate(337 1300) skewX(-14)" font-size="33" textLength="222" lengthAdjust="spacingAndGlyphs" style="font-family:'DejaVu Sans Light','DejaVu Sans',sans-serif;font-weight:200;stroke:#6a5e4d;stroke-width:0.7">Sharma Spring</text>
<text class="fs" transform="translate(571 1359.5) skewX(-14)" font-size="33" textLength="163" lengthAdjust="spacingAndGlyphs" style="font-family:'DejaVu Sans Light','DejaVu Sans',sans-serif;font-weight:200;stroke:#6a5e4d;stroke-width:0.7">Master Plan</text>
<text class="ft" x="1057.5" y="1285.6" font-size="17.2" text-anchor="start" textLength="54.6" lengthAdjust="spacingAndGlyphs">Project</text>
<text class="ft" x="1139.2" y="1285.6" font-size="17.2" text-anchor="start">:</text>
<text class="ft" x="1151.8" y="1285.6" font-size="17.2" text-anchor="start" textLength="114.6" lengthAdjust="spacingAndGlyphs">Sharma Spring</text>
<text class="ft" x="1057.5" y="1309" font-size="17.2" text-anchor="start" textLength="28.6" lengthAdjust="spacingAndGlyphs">Title</text>
<text class="ft" x="1139.2" y="1309" font-size="17.2" text-anchor="start">:</text>
<text class="ft" x="1151.8" y="1309" font-size="17.2" text-anchor="start" textLength="124.8" lengthAdjust="spacingAndGlyphs">1st FLOOR PLAN</text>
<text class="ft" x="1057.5" y="1332.4" font-size="17.2" text-anchor="start" textLength="44.9" lengthAdjust="spacingAndGlyphs">Code</text>
<text class="ft" x="1139.2" y="1332.4" font-size="17.2" text-anchor="start">:</text>
<text class="ft" x="1057.5" y="1356" font-size="17.2" text-anchor="start" textLength="85.8" lengthAdjust="spacingAndGlyphs">Job Order:</text>
<text class="ft" x="1441.4" y="1279.9" font-size="16.5" text-anchor="start" textLength="76.2" lengthAdjust="spacingAndGlyphs">Drawn by</text>
<text class="ft" x="1551.5" y="1279.9" font-size="16.5" text-anchor="start">:</text>
<text class="ft" x="1441.4" y="1303.6" font-size="16.5" text-anchor="start" textLength="106.2" lengthAdjust="spacingAndGlyphs">Approved by</text>
<text class="ft" x="1553.6" y="1303.6" font-size="16.5" text-anchor="start">:</text>
<text class="ft" x="1441.4" y="1327.3" font-size="16.5" text-anchor="start" textLength="39" lengthAdjust="spacingAndGlyphs">Date</text>
<text class="ft" x="1555.7" y="1327.3" font-size="16.5" text-anchor="start">:</text>
<text class="ft" x="1441.4" y="1351" font-size="16.5" text-anchor="start" textLength="94.5" lengthAdjust="spacingAndGlyphs">Revise Date</text>
<text class="ft" x="1553.6" y="1351" font-size="16.5" text-anchor="start">:</text>
<text class="fb" transform="translate(1740.8 1327.3) scale(0.80 1)" font-size="74.5" x="-6 24.3 86 152.1 214.7">IBUKU</text>
<text class="fb" x="1739.5" y="1362.7" font-size="28.4" text-anchor="start" textLength="217.5" lengthAdjust="spacingAndGlyphs">www.ibuku.com</text>
</svg>
</body></html>
